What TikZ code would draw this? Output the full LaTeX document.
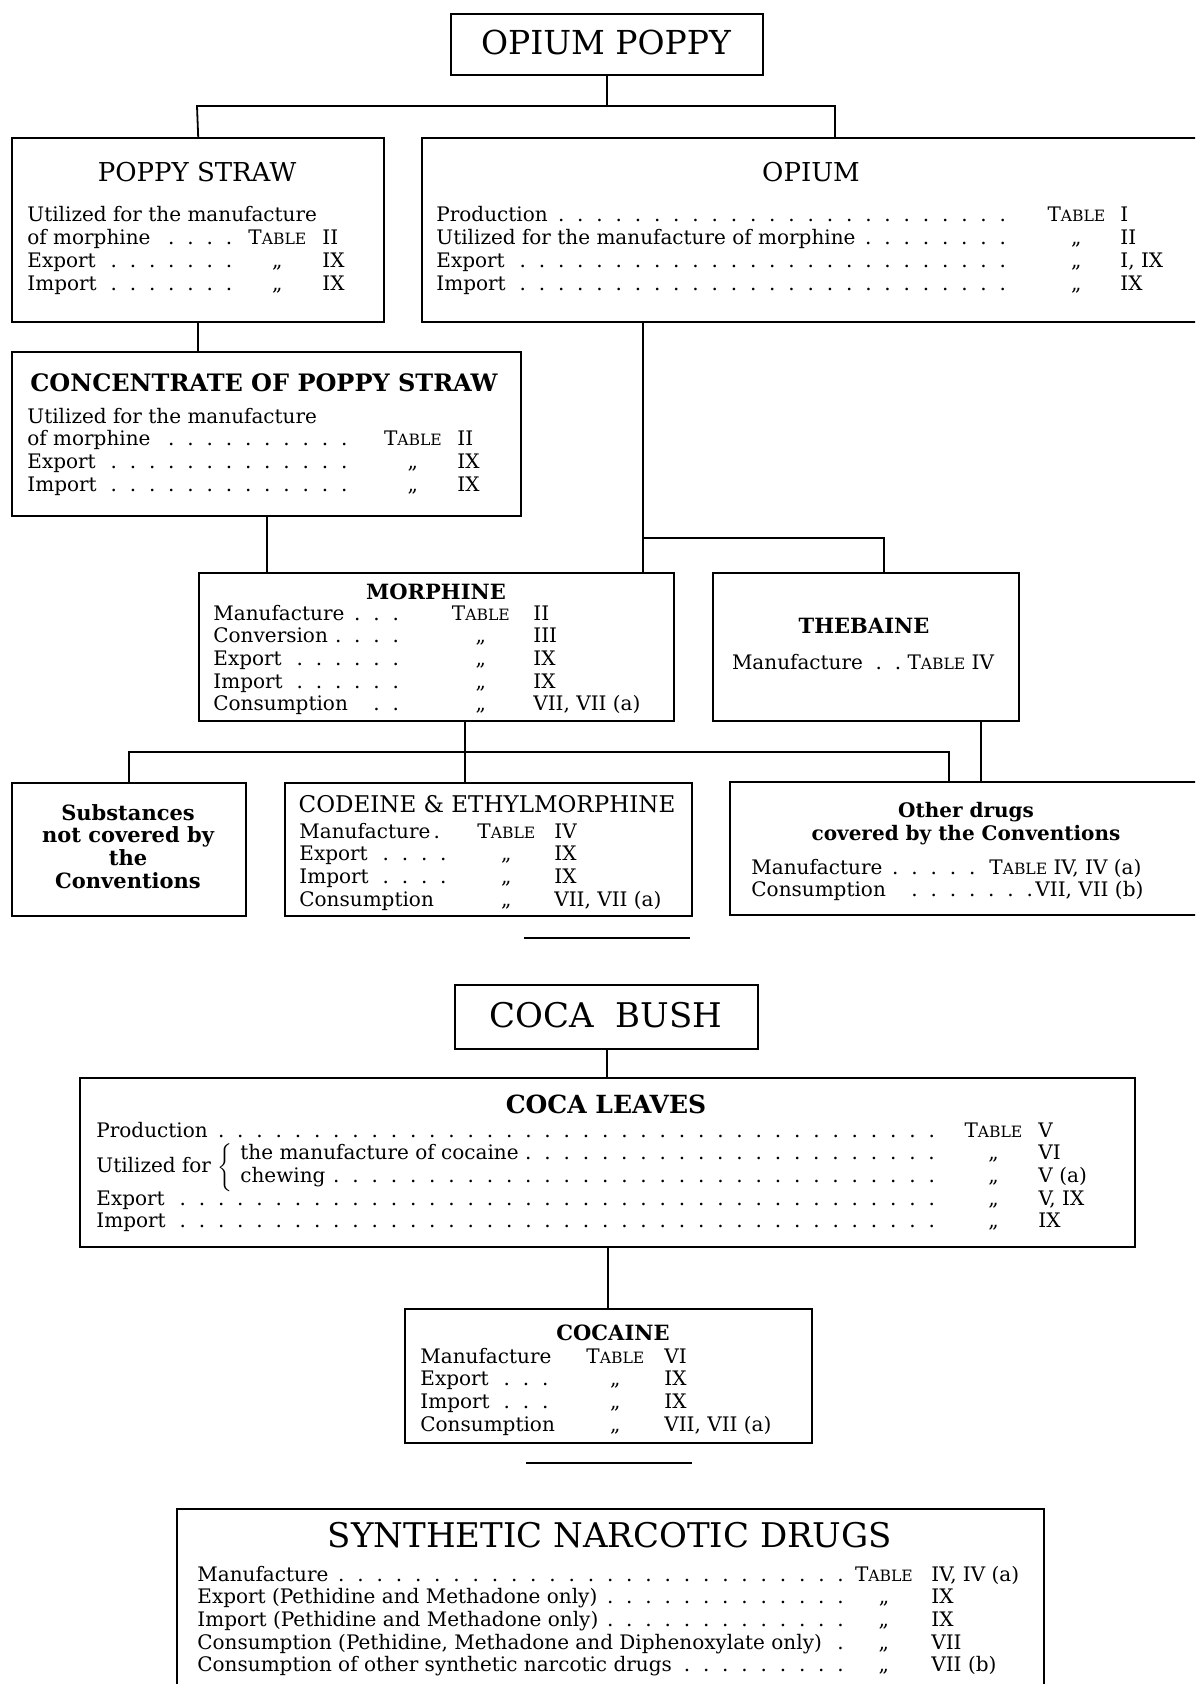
\documentclass[tikz,border=0pt]{standalone}
\usepackage{fontspec}
\setmainfont{DejaVu Serif}
\usepackage{tikz}

\newlength\cola
\newlength\colb
\newlength\colg
\newlength\lgap
\newcommand\setcols[4]{\setlength\cola{#1}\setlength\colb{#2}\setlength\colg{#3}\setlength\lgap{#4}}
\newcommand\leadg[1]{\leaders\hbox to 9.6pt{\hss.\hss}\hfill\hspace*{#1}}
\newcommand\dotlead{\leadg{\lgap}}
\newcommand\tabrow[3]{\makebox[\cola][l]{#1}\makebox[\colb][c]{#2}\hspace*{\colg}#3}
\newcommand\tabl{T{\fontsize{7.8}{8}\selectfont ABLE}}
\newcommand\ditto{„}

\tikzset{
  box/.style={draw, line width=1.2pt, inner sep=0pt, anchor=north west},
  link/.style={line width=0.9pt},
  head/.style={inner sep=0pt, anchor=base},
  body/.style={inner sep=0pt, anchor=base west, font=\fontsize{10}{11.35}\selectfont}
}

\begin{document}
\begin{tikzpicture}[x=0.5pt, y=-0.5pt]
            \useasboundingbox (0,0) rectangle (1195,1684);
            \clip (0,0) rectangle (1195,1684);
            \node[box, minimum width=156pt, minimum height=30.5pt] (poppy) at (450,13) {};
            \node[head, font=\fontsize{16.5}{18}\selectfont] (poppyhd) at (606,55) {OPIUM POPPY};
            \node[box, minimum width=186pt, minimum height=92pt] (straw) at (11,137) {};
            \node[head, font=\fontsize{13}{15}\selectfont] (strawhd) at (197,182) {POPPY STRAW};
            \node[body] (strawtx) at (27,222) {\setcols{109pt}{32pt}{6.5pt}{3pt}%
                \begin{tabular}[t]{@{}l@{}}
                    Utilized for the manufacture\\
                    \tabrow{of morphine\dotlead}{\tabl}{II}\\
                    \tabrow{Export\dotlead}{\ditto}{IX}\\
                    \tabrow{Import\dotlead}{\ditto}{IX}
                \end{tabular}};
            \node[box, minimum width=391pt, minimum height=92pt] (opium) at (421,137) {};
            \node[head, font=\fontsize{13}{15}\selectfont] (opiumhd) at (811,182) {OPIUM};
            \node[body] (opiumtx) at (436,222) {\setcols{303.5pt}{33pt}{5.5pt}{10pt}%
                \begin{tabular}[t]{@{}l@{}}
                    \tabrow{Production\dotlead}{\tabl}{I}\\
                    \tabrow{Utilized for the manufacture of morphine\dotlead}{\ditto}{II}\\
                    \tabrow{Export\dotlead}{\ditto}{I, IX}\\
                    \tabrow{Import\dotlead}{\ditto}{IX}
                \end{tabular}};
            \node[box, minimum width=254.5pt, minimum height=82pt] (conc) at (11,351) {};
            \node[head, font=\bfseries\fontsize{12}{14}\selectfont] (conchd) at (264,392) {CONCENTRATE OF POPPY STRAW};
            \node[body] (conctx) at (27,423) {\setcols{177pt}{31.5pt}{6.5pt}{12pt}%
                \begin{tabular}[t]{@{}l@{}}
                    Utilized for the manufacture\\
                    \tabrow{of morphine\dotlead}{\tabl}{II}\\
                    \tabrow{Export\dotlead}{\ditto}{IX}\\
                    \tabrow{Import\dotlead}{\ditto}{IX}
                \end{tabular}};
            \node[box, minimum width=237.5pt, minimum height=74pt] (morph) at (198,572) {};
            \node[head, font=\bfseries\fontsize{10.5}{12}\selectfont] (morphhd) at (436,599) {MORPHINE};
            \node[body] (morphtx) at (213,620) {\setcols{117.5pt}{32.5pt}{10pt}{20pt}%
                \begin{tabular}[t]{@{}l@{}}
                    \tabrow{Manufacture\dotlead}{\tabl}{II}\\
                    \tabrow{Conversion\dotlead}{\ditto}{III}\\
                    \tabrow{Export\dotlead}{\ditto}{IX}\\
                    \tabrow{Import\dotlead}{\ditto}{IX}\\
                    \tabrow{Consumption\dotlead}{\ditto}{VII, VII (a)}
                \end{tabular}};
            \node[box, minimum width=153pt, minimum height=74pt] (theb) at (712,572) {};
            \node[head, font=\bfseries\fontsize{10.5}{12}\selectfont] (thebhd) at (864,633) {THEBAINE};
            \node[head, font=\fontsize{10}{12}\selectfont] (thebtx) at (863,669) {Manufacture\ \ .\ \ .\ \tabl\ IV};
            \node[box, minimum width=117pt, minimum height=66.5pt] (subst) at (11,782) {};
            \node[head, font=\bfseries\fontsize{10.5}{11.35}\selectfont] (substhd) at (128,820) {%
                \begin{tabular}[t]{@{}c@{}}Substances\\not covered by\\the\\Conventions\end{tabular}};
            \node[box, minimum width=203.5pt, minimum height=66.5pt] (codeine) at (284,782) {};
            \node[head, font=\fontsize{11.5}{13}\selectfont] (codhd) at (487,812) {CODEINE \& ETHYLMORPHINE};
            \node[body] (codtx) at (299,838) {\setcols{88pt}{31pt}{8.5pt}{10pt}%
                \begin{tabular}[t]{@{}l@{}}
                    \tabrow{Manufacture\,.}{\tabl}{IV}\\
                    \tabrow{Export\dotlead}{\ditto}{IX}\\
                    \tabrow{Import\dotlead}{\ditto}{IX}\\
                    \tabrow{Consumption}{\ditto}{VII, VII (a)}
                \end{tabular}};
            \node[box, minimum width=237pt, minimum height=66.5pt] (other) at (729,781) {};
            \node[head, font=\bfseries\fontsize{10}{11.5}\selectfont] (otherhd) at (966,817) {%
                \begin{tabular}[t]{@{}c@{}}Other drugs\\covered by the Conventions\end{tabular}};
            \node[body] (othertx) at (751,874) {%
                \begin{tabular}[t]{@{}l@{}}
                    \makebox[119pt][l]{Manufacture\leadg{3pt}}\tabl\ IV, IV (a)\\
                    \makebox[142pt][l]{Consumption\leadg{-3pt}}VII, VII (b)
                \end{tabular}};
            \coordinate (pbarL) at (197,106);
            \coordinate (pbarR) at (835,106);
            \coordinate (ojoin) at (643,538);
            \coordinate (tjoin) at (884,538);
            \coordinate (mjoin) at (465,752);
            \coordinate (odjoin) at (949,752);
            \coordinate (tdrop) at (981,752);
            \draw[link] (poppy.south) -- (poppy.south |- pbarL);
            \draw[link] (straw.north) -- (pbarL) -- (pbarR) -- (pbarR |- opium.north);
            \draw[link] (straw.south) -- (straw.south |- conc.north);
            \draw[link] (conc.south) -- (conc.south |- morph.north);
            \draw[link] (ojoin |- opium.south) -- (ojoin |- morph.north);
            \draw[link] (ojoin) -- (tjoin) -- (tjoin |- theb.north);
            \draw[link] (mjoin |- morph.south) -- (mjoin |- codeine.north);
            \draw[link] (subst.north) |- (odjoin) -- (odjoin |- other.north);
            \draw[link] (tdrop |- theb.south) -- (tdrop |- other.north);
            \draw[link] (524,938) -- (690,938);
            \node[box, minimum width=151.5pt, minimum height=32pt] (cocabush) at (454,984) {};
            \node[head, font=\fontsize{17}{19}\selectfont] (cocabushhd) at (606,1027) {COCA\ \ BUSH};
            \node[box, minimum width=527.5pt, minimum height=84.5pt] (leaves) at (79,1077) {};
            \node[head, font=\bfseries\fontsize{12.5}{14}\selectfont] (leaveshd) at (606,1113) {COCA LEAVES};
            \node[body] (leavestx) at (96,1137) {\setcols{433pt}{31pt}{7pt}{9pt}%
                \begin{tabular}[t]{@{}l@{}}
                    \tabrow{Production\dotlead}{\tabl}{V}\\
                    \tabrow{\rlap{\raisebox{-6.5pt}[0pt][0pt]{Utilized for\ $\bigg\{$}}\hspace*{72pt}the manufacture of cocaine\dotlead}{\ditto}{VI}\\
                    \tabrow{\hspace*{72pt}chewing\dotlead}{\ditto}{V (a)}\\
                    \tabrow{Export\dotlead}{\ditto}{V, IX}\\
                    \tabrow{Import\dotlead}{\ditto}{IX}
                \end{tabular}};
            \node[box, minimum width=203.5pt, minimum height=67pt] (cocaine) at (404,1308) {};
            \node[head, font=\bfseries\fontsize{10.5}{12}\selectfont] (cocainehd) at (613,1340) {COCAINE};
            \node[body] (cocainetx) at (420,1363) {\setcols{81.5pt}{32pt}{8.5pt}{13pt}%
                \begin{tabular}[t]{@{}l@{}}
                    \tabrow{Manufacture}{\tabl}{VI}\\
                    \tabrow{Export\dotlead}{\ditto}{IX}\\
                    \tabrow{Import\dotlead}{\ditto}{IX}\\
                    \tabrow{Consumption}{\ditto}{VII, VII (a)}
                \end{tabular}};
            \draw[link] (cocabush.south) -- (cocabush.south |- leaves.north);
            \draw[link] (leaves.south) -- (leaves.south |- cocaine.north);
            \draw[link] (526,1463) -- (692,1463);
            \node[box, minimum width=433.5pt, minimum height=100pt] (synth) at (176,1508) {};
            \node[head, font=\fontsize{17}{19}\selectfont] (synthhd) at (610,1547) {SYNTHETIC NARCOTIC DRUGS};
            \node[body] (synthtx) at (197,1581) {\setcols{324.5pt}{37.5pt}{5pt}{-3pt}%
                \begin{tabular}[t]{@{}l@{}}
                    \tabrow{Manufacture\dotlead}{\tabl}{IV, IV (a)}\\
                    \tabrow{Export (Pethidine and Methadone only)\dotlead}{\ditto}{IX}\\
                    \tabrow{Import (Pethidine and Methadone only)\dotlead}{\ditto}{IX}\\
                    \tabrow{Consumption (Pethidine, Methadone and Diphenoxylate only)\dotlead}{\ditto}{VII}\\
                    \tabrow{Consumption of other synthetic narcotic drugs\dotlead}{\ditto}{VII (b)}
                \end{tabular}};
        \end{tikzpicture}
\end{document}
